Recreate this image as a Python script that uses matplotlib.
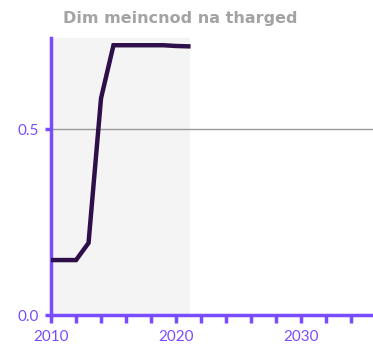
import numpy as np
import matplotlib
matplotlib.use('Agg')
import matplotlib.pyplot as plt

years = [2010, 2011, 2012, 2013, 2014, 2015, 2016, 2017, 2018, 2019, 2020, 2021]
values = [0.148, 0.148, 0.148, 0.194, 0.583, 0.726, 0.726, 0.726, 0.726, 0.726, 0.724, 0.723]
shade_span = [2010, 2021.1]
title = 'Dim meincnod na tharged'

purple = '#7a4cff'
linecol = '#2e0f4a'

plt.rcParams['font.family'] = ['Lato', 'DejaVu Sans']

fig = plt.figure(figsize=(3.73, 3.47), dpi=100)
ax = fig.add_axes([0.137, 0.092, 0.863, 0.798])

ax.axvspan(shade_span[0], shade_span[1], color='#f4f4f4', zorder=0, lw=0)
ax.axhline(0.5, color='#999999', lw=1, zorder=1)
ax.plot(years, values, color=linecol, lw=3.2, zorder=3, solid_joinstyle='miter')

ax.set_xlim(2010, 2035.8)
ax.set_ylim(0, 0.745)
ax.set_xticks(np.arange(2010, 2036, 2))
ax.set_xticklabels(['2010' if y == 2010 else '2020' if y == 2020 else '2030' if y == 2030 else '' for y in range(2010, 2036, 2)])
ax.set_yticks([0.0, 0.5])
ax.set_yticklabels(['0.0', '0.5'])

for s in ['top', 'right']:
    ax.spines[s].set_visible(False)
for s in ['left', 'bottom']:
    ax.spines[s].set_color(purple)
    ax.spines[s].set_linewidth(2.5)
ax.tick_params(axis='x', colors=purple, length=6, width=2.5, labelsize=11, pad=5)
ax.tick_params(axis='y', colors=purple, length=4.5, width=2.5, labelsize=11, pad=4)
ax.set_facecolor('white')

fig.text(0.483, 0.948, title, ha='center', va='center', color='#a3a3a3',
         fontsize=11.5, fontweight='bold', family='DejaVu Sans')

plt.savefig('out.png', dpi=100)
